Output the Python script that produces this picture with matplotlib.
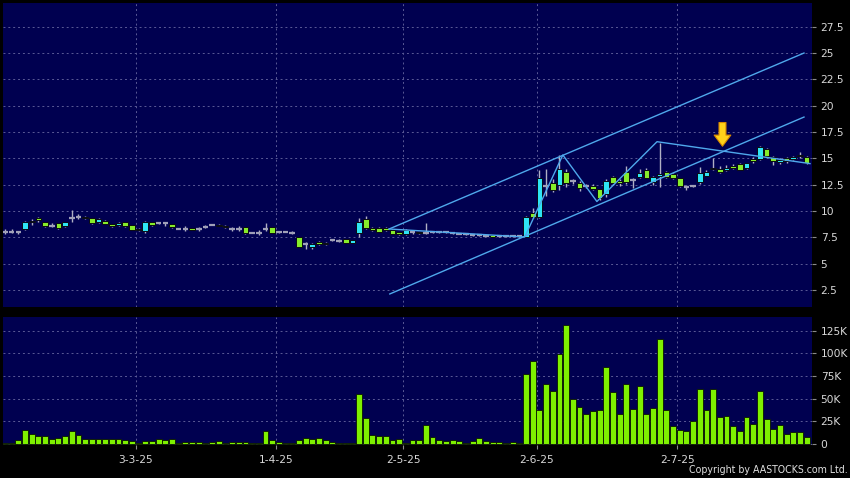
import matplotlib
matplotlib.use('Agg')
import matplotlib.pyplot as plt
from matplotlib import font_manager

# daily candles, one entry per trading day (Feb - Jul 2025)
opens = [8.0, 8.05, 8.05, 8.26, 8.93, 9.3, 8.98, 8.6, 8.83, 8.57,
         9.3, 9.46, 9.46, 9.3, 8.98, 9.08, 8.77, 8.64, 8.92, 8.64,
         8.32, 8.07, 8.92, 8.83, 8.83, 8.77, 8.32, 8.32, 8.35, 8.32,
         8.52, 8.7, 8.7, 8.6, 8.32, 8.32, 8.45, 7.95, 7.95, 8.32,
         8.45, 8.0, 8.03, 7.95, 7.5, 6.83, 6.55, 7.1, 6.83, 7.23,
         7.17, 7.3, 7.0, 7.93, 9.2, 8.43, 8.43, 8.43, 8.2, 7.97,
         7.78, 7.97, 8.0, 7.93, 8.0, 8.0, 7.97, 7.88, 7.85, 7.78,
         7.72, 7.68, 7.65, 7.68, 7.6, 7.6, 7.6, 7.6, 7.56, 9.78,
         9.4, 12.4, 12.7, 12.47, 13.67, 12.88, 12.7, 12.4, 12.4, 12.05,
         11.6, 13.2, 12.88, 13.73, 12.95, 13.2, 13.9, 12.72, 13.35, 13.67,
         13.5, 13.1, 12.3, 12.35, 12.72, 13.35, 13.95, 13.95, 13.9, 14.3,
         14.43, 14.05, 14.9, 14.9, 15.86, 15.15, 14.62, 15.0, 14.9, 15.2,
         15.1]
closes = [8.0, 8.05, 8.05, 8.92, 9.08, 9.1, 8.57, 8.6, 8.36, 8.98,
          9.3, 9.46, 9.3, 8.83, 9.2, 8.8, 8.57, 8.83, 8.57, 8.2,
          8.2, 8.98, 8.64, 8.83, 8.83, 8.45, 8.32, 8.32, 8.2, 8.32,
          8.52, 8.7, 8.57, 8.45, 8.32, 8.32, 7.88, 7.95, 7.95, 8.32,
          7.95, 8.0, 8.03, 7.95, 6.6, 6.83, 6.83, 6.83, 7.0, 7.23,
          7.17, 7.0, 7.23, 8.92, 8.35, 8.15, 8.05, 8.15, 7.84, 7.78,
          8.2, 7.97, 7.88, 7.93, 8.0, 8.0, 7.97, 7.88, 7.85, 7.78,
          7.72, 7.68, 7.65, 7.52, 7.6, 7.6, 7.6, 7.6, 9.46, 9.4,
          13.1, 12.4, 12.0, 13.96, 12.63, 12.88, 12.15, 12.4, 12.05, 11.2,
          12.85, 12.63, 12.63, 12.72, 12.95, 13.57, 13.15, 13.2, 13.5, 13.2,
          13.1, 12.4, 12.3, 12.35, 13.57, 13.73, 14.1, 13.67, 14.05, 14.05,
          13.9, 14.53, 14.7, 16.05, 15.23, 14.75, 14.84, 14.78, 15.1, 15.3,
          14.53]
highs = [8.3, 8.3, 8.12, 9.05, 9.25, 9.45, 9.0, 8.9, 8.85, 9.0,
         10.1, 9.68, 9.55, 9.35, 9.3, 9.1, 8.8, 8.95, 8.95, 8.7,
         8.35, 9.08, 9.0, 8.92, 8.98, 8.8, 8.35, 8.55, 8.4, 8.5,
         8.65, 8.75, 8.75, 8.65, 8.5, 8.55, 8.5, 8.0, 8.15, 8.9,
         8.5, 8.05, 8.08, 8.1, 7.55, 7.08, 6.95, 7.15, 7.05, 7.28,
         7.3, 7.35, 7.28, 9.3, 9.5, 8.5, 8.5, 8.5, 8.25, 8.0,
         8.25, 8.05, 8.05, 8.85, 8.05, 8.05, 8.1, 7.95, 7.92, 7.85,
         7.8, 7.75, 7.72, 7.72, 7.65, 7.66, 7.65, 7.64, 9.5, 10.3,
         13.9, 14.0, 13.0, 15.3, 14.0, 13.0, 12.8, 12.6, 12.6, 12.1,
         13.0, 13.3, 13.0, 14.3, 13.1, 13.97, 14.05, 13.3, 16.5, 13.8,
         13.6, 13.15, 12.45, 12.45, 14.2, 13.85, 15.0, 14.3, 14.4, 14.5,
         14.6, 14.6, 15.1, 16.2, 15.95, 15.2, 15.0, 15.1, 15.25, 15.6,
         15.2]
lows = [7.8, 7.95, 7.78, 8.2, 8.7, 9.0, 8.5, 8.45, 8.3, 8.5,
        8.98, 9.2, 9.25, 8.8, 8.9, 8.75, 8.5, 8.55, 8.5, 8.15,
        8.1, 7.95, 8.6, 8.75, 8.6, 8.4, 8.28, 8.13, 8.15, 8.13,
        8.4, 8.65, 8.55, 8.4, 8.13, 8.13, 7.85, 7.9, 7.75, 8.13,
        7.9, 7.95, 7.98, 7.85, 6.55, 6.36, 6.36, 6.8, 6.8, 7.18,
        7.05, 6.95, 6.95, 7.55, 8.3, 8.1, 8.0, 8.1, 7.8, 7.75,
        7.75, 7.85, 7.85, 7.85, 7.95, 7.95, 7.9, 7.82, 7.8, 7.72,
        7.66, 7.6, 7.58, 7.5, 7.55, 7.54, 7.55, 7.56, 7.5, 9.3,
        9.3, 11.4, 11.8, 12.0, 12.3, 12.6, 11.9, 12.2, 11.95, 11.0,
        11.3, 12.5, 12.4, 12.6, 12.2, 13.1, 13.1, 12.5, 12.3, 13.1,
        13.0, 12.3, 12.0, 12.25, 12.6, 13.3, 13.9, 13.6, 13.8, 13.95,
        13.85, 14.0, 14.6, 14.85, 15.1, 14.4, 14.5, 14.6, 14.8, 15.0,
        14.45]
# volume in thousands of shares
volumes = [1.5, 1.5, 4.8, 15.9, 11, 8.9, 8.9, 5.9, 7, 8.9,
           14.7, 10, 5.2, 5.9, 5.9, 5.2, 5.2, 5.2, 4.4, 3.7,
           1.5, 3.7, 3.7, 5.9, 4.8, 5.9, 1.5, 2.2, 2.2, 2.6,
           1.5, 2.2, 3.0, 1.5, 2.2, 2.2, 2.2, 0.8, 0.8, 14,
           4.6, 1.8, 1.5, 1.5, 4.8, 6.6, 5.5, 6.6, 4.0, 2.2,
           0.7, 1.5, 1.5, 55, 29, 10.3, 8.5, 9.2, 4.8, 5.2,
           1.5, 4.8, 4.8, 21.4, 7.7, 4.8, 3.3, 4.4, 3.0, 1.5,
           3.7, 6.3, 3.7, 2.2, 2.2, 1.5, 2.6, 0.7, 77, 91.5,
           37, 66, 59, 99.6, 131, 50, 41, 33, 36, 37,
           85, 57, 33, 66, 39, 64, 33, 40, 116, 37,
           20, 16, 14, 25, 61, 38, 61, 30, 31, 20,
           14, 29.5, 22.5, 58, 28, 17, 21, 10.7, 13, 13,
           8]

tick_labels = ['3-3-25', '1-4-25', '2-5-25', '2-6-25', '2-7-25']
tick_days = [20, 41, 60, 80, 101]

price_ticks = [2.5, 5, 7.5, 10, 12.5, 15, 17.5, 20, 22.5, 25, 27.5]
volume_ticks = [0, 25, 50, 75, 100, 125]

# hand drawn trend lines (bar index, price)
upper_x, upper_y = [57.5, 119.6], [8.29, 25.0]
lower_x, lower_y = [57.6, 119.6], [2.12, 18.92]
zigzag_x = [57.5, 77.8, 83.5, 88.6, 97.6, 120.5]
zigzag_y = [8.29, 7.53, 15.32, 10.9, 16.58, 14.5]
arrow_x, arrow_top, arrow_tip = 107.4, 18.4, 16.15

BG = '#000050'
GRID = '#5a5a96'
TEXT = '#d8d8d8'
UP = '#2ee4f4'
DOWN = '#86ec2a'
FLAT = '#a0a0b8'
WICK = '#b0b0c4'
LINE = '#4fa8ec'

names = {f.name for f in font_manager.fontManager.ttflist}
narrow = 'Liberation Sans Narrow' if 'Liberation Sans Narrow' in names else 'DejaVu Sans'

fig = plt.figure(figsize=(8.5, 4.78), dpi=100, facecolor='black')
ax = fig.add_axes([0.0039, 0.3577, 0.9518, 0.636], facecolor=BG)
axv = fig.add_axes([0.0039, 0.0690, 0.9518, 0.2678], facecolor=BG)

n = len(opens)
xs = list(range(n))
xmin, xmax = -0.25, n - 0.15
grid_pos = [d - 0.4 for d in tick_days]

# wicks
ax.vlines(xs, lows, highs, color=WICK, linewidth=1, zorder=2)

# bodies
for i in xs:
    o, c = opens[i], closes[i]
    if abs(c - o) < 0.01:
        ax.hlines(o, i - 0.42, i + 0.42, color=FLAT, linewidth=1.6, zorder=3)
    else:
        col = UP if c > o else DOWN
        ax.bar(i, max(abs(c - o), 0.12), bottom=min(o, c), width=0.84,
               color=col, edgecolor='#0a0a14', linewidth=0.7, zorder=3)

ax.plot(upper_x, upper_y, color=LINE, linewidth=1, zorder=4)
ax.plot(lower_x, lower_y, color=LINE, linewidth=1, zorder=4)
ax.plot(zigzag_x, zigzag_y, color=LINE, linewidth=1, zorder=4)
ax.annotate('', xy=(arrow_x, arrow_tip), xytext=(arrow_x, arrow_top),
            arrowprops=dict(width=5, headwidth=12, headlength=8,
                            fc='#ffd21a', ec='#d98a00', lw=0.8, shrink=0),
            zorder=5)

axv.bar(xs, volumes, width=0.88, color='#7ef000', edgecolor='#0a1400',
        linewidth=0.6, zorder=3)

for a in (ax, axv):
    a.set_xlim(xmin, xmax)
    for s in a.spines.values():
        s.set_visible(False)
    a.yaxis.tick_right()
    a.set_xticks(grid_pos)
    a.grid(True, color=GRID, linestyle=(0, (2, 3)), linewidth=0.7, zorder=0)
    a.set_axisbelow(True)
    a.tick_params(axis='y', direction='out', length=3, width=0.8,
                  color='#8a8a8a', labelcolor=TEXT, labelsize=7.7, pad=3)

ax.set_ylim(0.88, 29.75)
ax.set_yticks(price_ticks)
ax.set_yticklabels([f'{v:g}' for v in price_ticks])
ax.tick_params(axis='x', length=0, labelbottom=False)

axv.set_ylim(-1.1, 140.1)
axv.set_yticks(volume_ticks)
axv.set_yticklabels(['0' if v == 0 else f'{v}K' for v in volume_ticks])
axv.set_xticklabels(tick_labels)
axv.tick_params(axis='x', direction='out', length=3, width=0.8,
                color='#8a8a8a', labelcolor=TEXT, labelsize=7.7, pad=4.5)

fig.text(0.997, 0.006, 'Copyright by AASTOCKS.com Ltd.', color='#e0e0e0',
         fontsize=7.6, family=narrow, stretch='condensed',
         ha='right', va='bottom')

fig.savefig('out.png', dpi=100, facecolor='black')
plt.close(fig)
